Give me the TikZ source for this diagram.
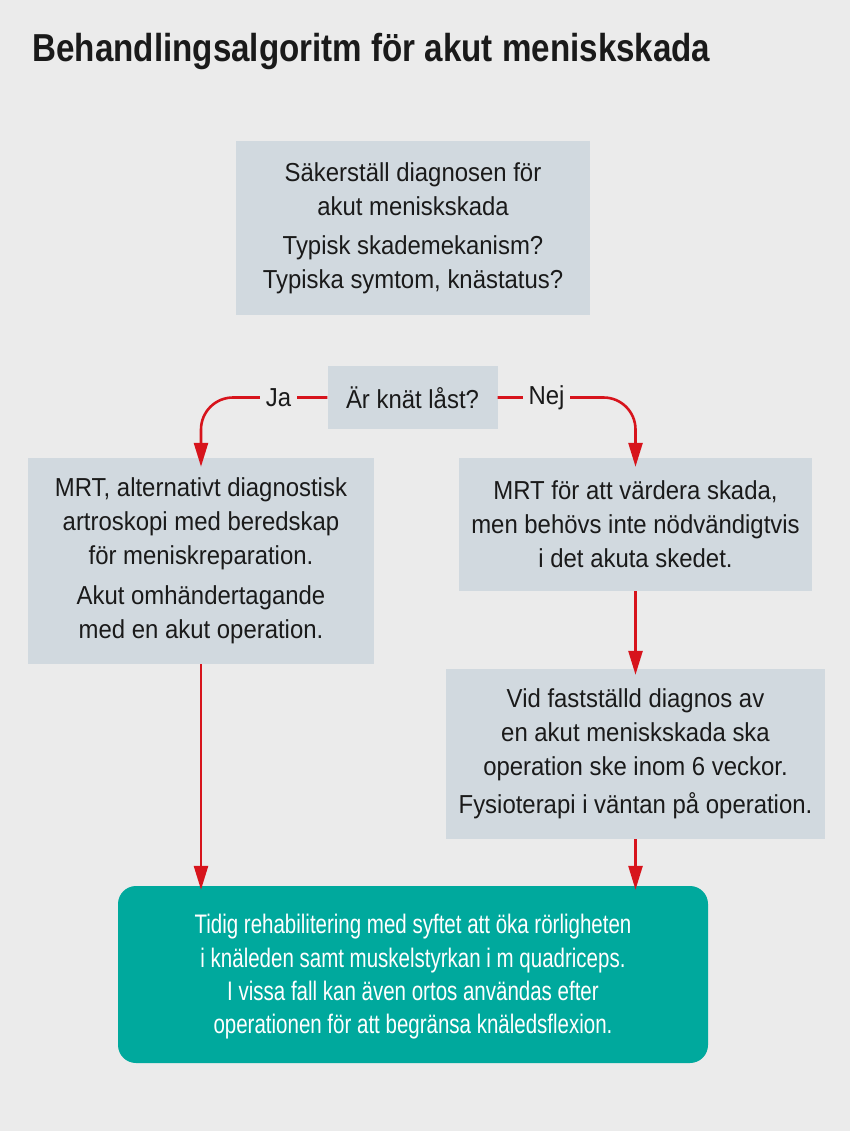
\documentclass[tikz,border=0pt]{standalone}
\usepackage{fontspec}
\setmainfont{Liberation Sans}[FakeStretch=0.92]
\newfontfamily\titlefont{Liberation Sans}[FakeStretch=0.85]
\newfontfamily\tealfont{Liberation Sans}[FakeStretch=0.765]
\usetikzlibrary{arrows.meta}
\definecolor{bg}{HTML}{EBEBEB}
\definecolor{boxgrey}{HTML}{D1D9DF}
\definecolor{tealc}{HTML}{00A99D}
\definecolor{redc}{HTML}{D7141C}
\definecolor{txt}{HTML}{1A1A1A}
\tikzset{
  greybox/.style={fill=boxgrey, draw=none, align=center, inner sep=0pt, text=txt,
    font=\fontsize{26}{34}\selectfont},
  tealbox/.style={fill=tealc, draw=none, rounded corners=18pt, align=center, inner sep=0pt,
    text=white, font=\tealfont\fontsize{26.8}{33.3}\selectfont},
  conn/.style={draw=redc, line width=2.6pt, -{Triangle[width=14pt,length=24pt]}},
  lbl/.style={fill=bg, inner sep=0pt, text=txt, font=\fontsize{26}{28}\selectfont}
}
\begin{document}
\begin{tikzpicture}[x=1pt,y=-1pt]
\fill[bg] (0,0) rectangle (850,1131);
\useasboundingbox (0,0) rectangle (850,1131);
\node[anchor=base west, text=txt, font=\titlefont\bfseries\fontsize{39}{42}\selectfont] (title) at (29,62) {Behandlingsalgoritm för akut meniskskada};

\node[greybox, minimum width=354pt, minimum height=174pt] (diag) at (413,228)
  {Säkerställ diagnosen för\\akut meniskskada\\[5pt]Typisk skademekanism?\\Typiska symtom, knästatus?};

\node[greybox, minimum width=170pt, minimum height=63pt] (q) at (412.5,397.5) {Är knät låst?};

\node[greybox, minimum width=346pt, minimum height=206pt] (ja) at (201,561)
  {MRT, alternativt diagnostisk\\artroskopi med beredskap\\för meniskreparation.\\[6pt]Akut omhändertagande\\med en akut operation.};

\node[greybox, minimum width=353pt, minimum height=133pt] (nej) at (635.5,524.5)
  {MRT för att värdera skada,\\men behövs inte nödvändigtvis\\i det akuta skedet.};

\node[greybox, minimum width=379pt, minimum height=170pt] (op) at (635.5,754)
  {Vid fastställd diagnos av\\en akut meniskskada ska\\operation ske inom 6 veckor.\\[4pt]Fysioterapi i väntan på operation.};

\node[tealbox, minimum width=590pt, minimum height=177pt] (rehab) at (413,974.5) {};
\node[align=center, inner sep=0pt, text=white, font=\tealfont\fontsize{26.8}{33.3}\selectfont] (rehabtxt) at (413,977)
  {Tidig rehabilitering med syftet att öka rörligheten\\i knäleden samt muskelstyrkan i m quadriceps.\\I vissa fall kan även ortos användas efter\\operationen för att begränsa knäledsflexion.};

% connectors
\draw[conn, rounded corners=32pt, shorten >=-9pt] (q.west) -| (ja.north);
\draw[conn, rounded corners=32pt, shorten >=-9pt] (q.east) -| (nej.north);
\node[lbl, minimum width=37pt, minimum height=20pt] (jal) at (278.5,397.5) {Ja};
\node[lbl, minimum width=47pt, minimum height=20pt] (nejl) at (546.5,397.5) {Nej};

\draw[conn, shorten >=-6pt] (nej.south) -- (op.north);
\draw[conn, shorten >=-4pt] (ja.south) -- (ja.south |- rehab.north);
\draw[conn, shorten >=-4pt] (op.south) -- (op.south |- rehab.north);
\end{tikzpicture}
\end{document}
